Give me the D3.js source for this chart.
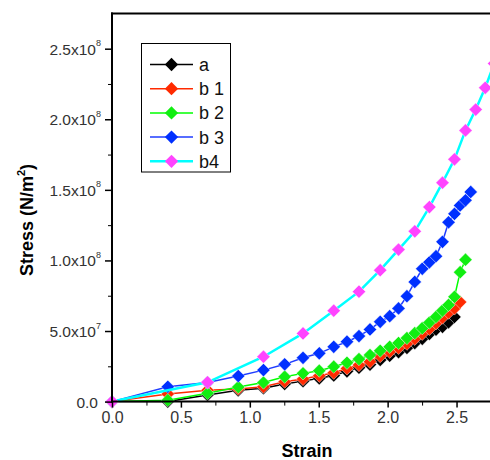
<!DOCTYPE html>
<html>
<head>
<meta charset="utf-8">
<script src="https://cdn.jsdelivr.net/npm/d3@7/dist/d3.min.js"></script>
<style>
body { margin: 0; background: #fff; }
text { font-family: "Liberation Sans", Arial, sans-serif; }
</style>
</head>
<body>
<svg id="chart" width="490" height="460"></svg>
<script>
// strain values (x), shared by the half-step series
var strain = [0, 0.405, 0.693, 0.916, 1.099, 1.253, 1.386, 1.504, 1.609, 1.705, 1.792, 1.872, 1.946,
	2.015, 2.079, 2.140, 2.197, 2.251, 2.303, 2.351, 2.398, 2.442, 2.485, 2.526, 2.565, 2.603];
// b4 only has the whole steps
var strainB4 = [0, 0.693, 1.099, 1.386, 1.609, 1.792, 1.946, 2.079, 2.197, 2.303, 2.398, 2.485, 2.565, 2.639, 2.708, 2.773];

// stress, units of 1e7 N/m2
var stressA  = [0, 0.0, 0.47, 0.8, 0.95, 1.25, 1.45, 1.65, 1.85, 2.15, 2.4, 2.62, 2.95, 3.25, 3.5, 3.8, 4.15, 4.45, 4.8, 5.1, 5.3, 5.62, 6.0];
var stressB1 = [0, 0.54, 0.8, 0.9, 1.05, 1.41, 1.6, 1.83, 2.04, 2.35, 2.59, 2.82, 3.22, 3.53, 3.8, 4.1, 4.45, 4.8, 5.15, 5.55, 5.95, 6.3, 6.6, 7.05];
var stressB2 = [0, 0.1, 0.59, 1.03, 1.35, 1.76, 2.0, 2.19, 2.47, 2.75, 3.01, 3.3, 3.6, 3.88, 4.15, 4.5, 4.85, 5.2, 5.6, 6.0, 6.45, 6.85, 7.42, 9.17, 10.05];
var stressB3 = [0, 1.05, 1.35, 1.81, 2.23, 2.64, 3.1, 3.42, 3.88, 4.24, 4.64, 5.11, 5.65, 6.05, 6.6, 7.47, 8.48, 9.41, 9.87, 10.3, 11.32, 12.7, 13.3, 13.9, 14.26, 14.85];
var stressB4 = [0, 1.365, 3.18, 4.83, 6.44, 7.79, 9.31, 10.77, 12.06, 13.78, 15.51, 17.16, 19.21, 20.69, 22.23, 23.95];

var seriesNames = ['a', 'b 1', 'b 2', 'b 3', 'b4'];
var lineColors = ['#000000', '#ff2a00', '#00ff00', '#1f3cff', '#00ffff'];
var markColors = ['#000000', '#ff2a00', '#11ee11', '#0030ff', '#ff44ff'];

var xTicks = [0, 0.5, 1.0, 1.5, 2.0, 2.5];
var xMinor = [0.25, 0.75, 1.25, 1.75, 2.25];
var yTicks = [0, 5e7, 1e8, 1.5e8, 2e8, 2.5e8];
var yMinor = [2.5e7, 7.5e7, 1.25e8, 1.75e8, 2.25e8];
var yTickBase = ['0.0', '5.0x10', '1.0x10', '1.5x10', '2.0x10', '2.5x10'];
var yTickExp = ['', '7', '8', '8', '8', '8'];

var svg = d3.select('#chart');

var x = d3.scaleLinear().domain([0, 2.75]).range([112, 491]);
var y = d3.scaleLinear().domain([0, 2.75e8]).range([401.6, 13.4]);

// build the series
var series = [];
var ys = [stressA, stressB1, stressB2, stressB3, stressB4];
for(var i=0; i<5; i++){
	var xs = (i==4) ? strainB4 : strain;
	var pts = ys[i].map(function(v, j){ return {x: xs[j], y: v*1e7}; });
	series.push({name: seriesNames[i], pts: pts, line: lineColors[i], mark: markColors[i]});
}

var plot = svg.append('g');
plot.append('clipPath').attr('id', 'clip').append('rect')
	.attr('x', 100).attr('y', 0).attr('width', 390).attr('height', 420);

var line = d3.line().x(function(d){ return x(d.x); }).y(function(d){ return y(d.y); });
var diamond = d3.symbol().type(d3.symbolSquare).size(88);

var sg = plot.selectAll('g.series').data(series).enter().append('g')
	.attr('class', 'series').attr('clip-path', 'url(#clip)');
sg.append('path')
	.attr('d', function(d){ return line(d.pts); })
	.attr('fill', 'none')
	.attr('stroke', function(d){ return d.line; })
	.attr('stroke-width', function(d, i){ return i==4 ? 2.5 : 1.5; });
sg.selectAll('path.mk').data(function(d){ return d.pts.map(function(p){ return {p: p, c: d.mark}; }); })
	.enter().append('path')
	.attr('class', 'mk')
	.attr('d', diamond)
	.attr('transform', function(d){ return 'translate(' + x(d.p.x) + ',' + y(d.p.y) + ') rotate(45)'; })
	.attr('fill', function(d){ return d.c; })
	.attr('stroke', '#fff')
	.attr('stroke-width', 0.6)
	.attr('stroke-opacity', 0.7);

// frame top
svg.append('line').attr('x1', 111).attr('x2', 490).attr('y1', 13.4).attr('y2', 13.4)
	.attr('stroke', '#000').attr('stroke-width', 2);

// x axis
var xAxis = svg.append('g').attr('transform', 'translate(0,' + 401.6 + ')')
	.call(d3.axisBottom(x).tickValues(xTicks).tickSize(6).tickFormat(d3.format('.1f')));
svg.append('g').attr('transform', 'translate(0,' + 401.6 + ')')
	.call(d3.axisBottom(x).tickValues(xMinor).tickSize(4).tickFormat(''))
	.select('.domain').remove();
xAxis.select('.domain').attr('d', 'M111,0H491').attr('stroke-width', 2);
xAxis.selectAll('.tick line').attr('stroke-width', 1.5);
xAxis.selectAll('.tick text').attr('font-size', 16).attr('fill', '#333').attr('y', 10);

// y axis, labels as base + superscript in one text
var yAxis = svg.append('g').attr('transform', 'translate(112,0)')
	.call(d3.axisLeft(y).tickValues(yTicks).tickSize(7).tickFormat(''));
svg.append('g').attr('transform', 'translate(112,0)')
	.call(d3.axisLeft(y).tickValues(yMinor).tickSize(4).tickFormat(''))
	.select('.domain').remove();
yAxis.select('.domain').attr('d', 'M0,402.6V12.4').attr('stroke-width', 2);
yAxis.selectAll('.tick line').attr('stroke-width', 1.5);
yAxis.selectAll('.tick').each(function(d, i){
	var t = d3.select(this).append('text')
		.attr('x', yTickExp[i] ? -11 : -14).attr('y', 5.5).attr('text-anchor', 'end')
		.attr('font-size', 15.5).attr('fill', '#333');
	t.append('tspan').text(yTickBase[i]);
	if(yTickExp[i]) t.append('tspan').attr('font-size', 9).attr('dy', -8.5).text(yTickExp[i]);
});

// axis titles
svg.append('text').attr('x', 307).attr('y', 457).attr('text-anchor', 'middle')
	.attr('font-size', 18).attr('font-weight', 'bold').text('Strain');
var yt = svg.append('text').attr('transform', 'translate(33,220) rotate(-90)')
	.attr('text-anchor', 'middle').attr('font-size', 18).attr('font-weight', 'bold');
yt.append('tspan').text('Stress (N/m');
yt.append('tspan').attr('font-size', 11).attr('dy', -8).text('2');
yt.append('tspan').attr('dy', 8).text(')');

// legend
var leg = svg.append('g');
leg.append('rect').attr('x', 141.5).attr('y', 43.5).attr('width', 89).attr('height', 128.5)
	.attr('fill', '#fff').attr('stroke', '#000').attr('stroke-width', 1);
var rows = leg.selectAll('g.row').data(series).enter().append('g')
	.attr('transform', function(d, i){ return 'translate(0,' + (64.5 + i*24.2) + ')'; });
rows.append('line').attr('x1', 150).attr('x2', 193).attr('y1', 0).attr('y2', 0)
	.attr('stroke', function(d){ return d.line; })
	.attr('stroke-width', function(d, i){ return i==4 ? 2.5 : 1.5; });
rows.append('path').attr('d', diamond).attr('transform', 'translate(171.5,0) rotate(45)')
	.attr('fill', function(d){ return d.mark; });
rows.append('text').attr('x', 199).attr('y', 6.5).attr('font-size', 18).attr('fill', '#111')
	.text(function(d){ return d.name; });
</script>
</body>
</html>
